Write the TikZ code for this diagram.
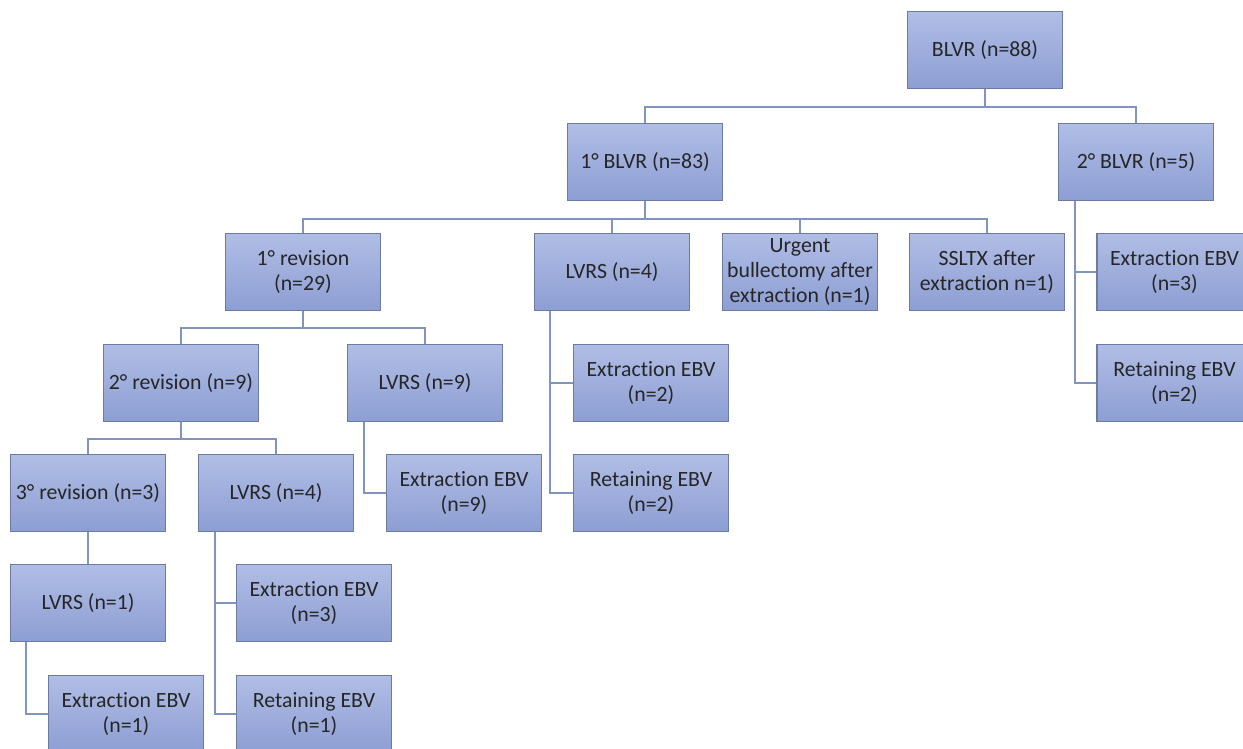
\documentclass[tikz,border=0pt]{standalone}
\usepackage{fontspec}
\setmainfont{Carlito}[Ligatures=NoCommon]
\definecolor{boxtop}{RGB}{176,189,229}
\definecolor{boxbot}{RGB}{141,158,211}
\definecolor{boxline}{RGB}{108,122,164}
\definecolor{linkcol}{RGB}{128,148,190}
\definecolor{txtcol}{RGB}{38,38,38}
\begin{document}
\begin{tikzpicture}[x=0.02cm, y=-0.02cm,
    box/.style={draw=boxline, line width=0.7pt, top color=boxtop, bottom color=boxbot,
        minimum width=3.1cm, minimum height=1.54cm, align=center, inner sep=1pt,
        text=txtcol, font=\fontsize{12.4}{14}\selectfont},
    link/.style={draw=linkcol, line width=1pt}]
    \useasboundingbox (0,0) rectangle (1243,748);

    % niveau 0 et 1
    \node[box] (root) at (985,50) {BLVR (n=88)};
    \node[box] (first) at (645,162) {1° BLVR (n=83)};
    \node[box] (second) at (1136,162) {2° BLVR (n=5)};

    % sous 1° BLVR
    \node[box] (rev1) at (303,272) {1° revision\\(n=29)};
    \node[box] (lvrsB) at (612,272) {LVRS (n=4)};
    \node[box] (urgent) at (800,272) {Urgent\\bullectomy after\\extraction (n=1)};
    \node[box] (ssltx) at (987,272) {SSLTX after\\extraction n=1)};

    % sous 2° BLVR
    \node[box] (extR) at (1174.5,272) {Extraction EBV\\(n=3)};
    \node[box] (retR) at (1174.5,383) {Retaining EBV\\(n=2)};

    % revisions
    \node[box] (rev2) at (181,383) {2° revision (n=9)};
    \node[box] (lvrsC) at (425,383) {LVRS (n=9)};
    \node[box] (extB) at (651,383) {Extraction EBV\\(n=2)};
    \node[box] (retB) at (651,493) {Retaining EBV\\(n=2)};
    \node[box] (rev3) at (88,493) {3° revision (n=3)};
    \node[box] (lvrsA) at (276,493) {LVRS (n=4)};
    \node[box] (extC) at (464,493) {Extraction EBV\\(n=9)};
    \node[box] (lvrsD) at (88,603) {LVRS (n=1)};
    \node[box] (extA) at (314,603) {Extraction EBV\\(n=3)};
    \node[box] (extD) at (126,714) {Extraction EBV\\(n=1)};
    \node[box] (retA) at (314,714) {Retaining EBV\\(n=1)};

    % liaisons en arbre
    \draw[link] (root.south) -- ++(0,18) -| (first.north);
    \draw[link] (root.south) -- ++(0,18) -| (second.north);
    \foreach \c in {rev1, lvrsB, urgent, ssltx}
        \draw[link] (first.south) -- ++(0,18) -| (\c.north);
    \foreach \c in {rev2, lvrsC}
        \draw[link] (rev1.south) -- ++(0,17) -| (\c.north);
    \foreach \c in {rev3, lvrsA}
        \draw[link] (rev2.south) -- ++(0,17) -| (\c.north);
    \draw[link] (rev3.south) -- (lvrsD.north);

    % liaisons laterales
    \foreach \c in {extR, retR}
        \draw[link] ([xshift=0.34cm]second.south west) |- (\c.west);
    \foreach \c in {extB, retB}
        \draw[link] ([xshift=0.32cm]lvrsB.south west) |- (\c.west);
    \draw[link] ([xshift=0.34cm]lvrsC.south west) |- (extC.west);
    \foreach \c in {extA, retA}
        \draw[link] ([xshift=0.34cm]lvrsA.south west) |- (\c.west);
    \draw[link] ([xshift=0.32cm]lvrsD.south west) |- (extD.west);
\end{tikzpicture}
\end{document}
